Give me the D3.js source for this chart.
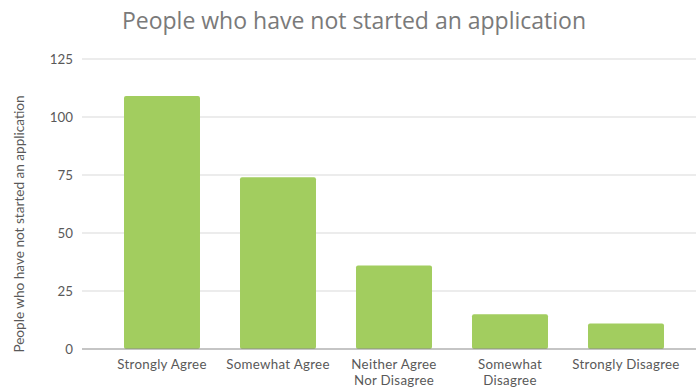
<!DOCTYPE html>
<html>
<head>
<meta charset="utf-8">
<script src="https://cdn.jsdelivr.net/npm/d3@7"></script>
<style>
  html, body { margin: 0; padding: 0; background: #fff; }
  svg { display: block; font-family: Lato, "Open Sans", sans-serif; }
</style>
</head>
<body>
<svg id="chart" width="696" height="388"></svg>
<script>
// Survey responses: people who have not started an application
const categories = [
  ["Strongly Agree"],
  ["Somewhat Agree"],
  ["Neither Agree", "Nor Disagree"],
  ["Somewhat", "Disagree"],
  ["Strongly Disagree"]
];
const counts = [109, 74, 36, 15, 11];
const yTicks = [0, 25, 50, 75, 100, 125];
const titleText = "People who have not started an application";
const yAxisTitle = "People who have not started an application";

const svg = d3.select("#chart");
const keys = categories.map(c => c.join(" "));

const x = d3.scaleBand()
  .domain(keys)
  .range([104, 684])
  .paddingInner(0.345)
  .paddingOuter(0.1725);

const y = d3.scaleLinear()
  .domain([0, 125])
  .range([349, 59]);

// Horizontal gridlines
svg.append("g")
  .selectAll("line")
  .data(yTicks.filter(t => t > 0))
  .join("line")
  .attr("x1", 82).attr("x2", 696)
  .attr("y1", d => y(d)).attr("y2", d => y(d))
  .attr("stroke", "#d9d9d9")
  .attr("stroke-width", 1);

// Y tick labels
svg.append("g")
  .selectAll("text")
  .data(yTicks)
  .join("text")
  .attr("x", 73)
  .attr("y", d => y(d))
  .attr("dy", "0.35em")
  .attr("text-anchor", "end")
  .attr("font-size", 13.3)
  .attr("fill", "#595959")
  .text(d => d);

// Bars
svg.append("g")
  .selectAll("rect")
  .data(counts)
  .join("rect")
  .attr("x", (d, i) => x(keys[i]))
  .attr("y", d => y(d))
  .attr("width", x.bandwidth())
  .attr("height", d => y(0) - y(d))
  .attr("rx", 2)
  .attr("fill", "#a2cd5f");

// Baseline
svg.append("line")
  .attr("x1", 82).attr("x2", 696)
  .attr("y1", y(0)).attr("y2", y(0))
  .attr("stroke", "#8c8c8c")
  .attr("stroke-width", 1.2);

// Category labels, one text element per line
const labelLines = [];
categories.forEach((lines, i) => {
  lines.forEach((t, j) => labelLines.push({ key: keys[i], text: t, line: j }));
});
svg.append("g")
  .selectAll("text")
  .data(labelLines)
  .join("text")
  .attr("x", d => x(d.key) + x.bandwidth() / 2)
  .attr("y", d => 369 + d.line * 16)
  .attr("text-anchor", "middle")
  .attr("font-size", 13.3)
  .attr("letter-spacing", 0.3)
  .attr("fill", "#595959")
  .text(d => d.text);

// Title
svg.append("text")
  .attr("x", 354)
  .attr("y", 29)
  .attr("text-anchor", "middle")
  .attr("font-family", "'Open Sans', sans-serif")
  .attr("font-size", 23)
  .attr("fill", "#7a7a7a")
  .text(titleText);

// Y axis title
svg.append("text")
  .attr("transform", "translate(24,224) rotate(-90)")
  .attr("text-anchor", "middle")
  .attr("font-size", 13.6)
  .attr("fill", "#595959")
  .text(yAxisTitle);
</script>
</body>
</html>
